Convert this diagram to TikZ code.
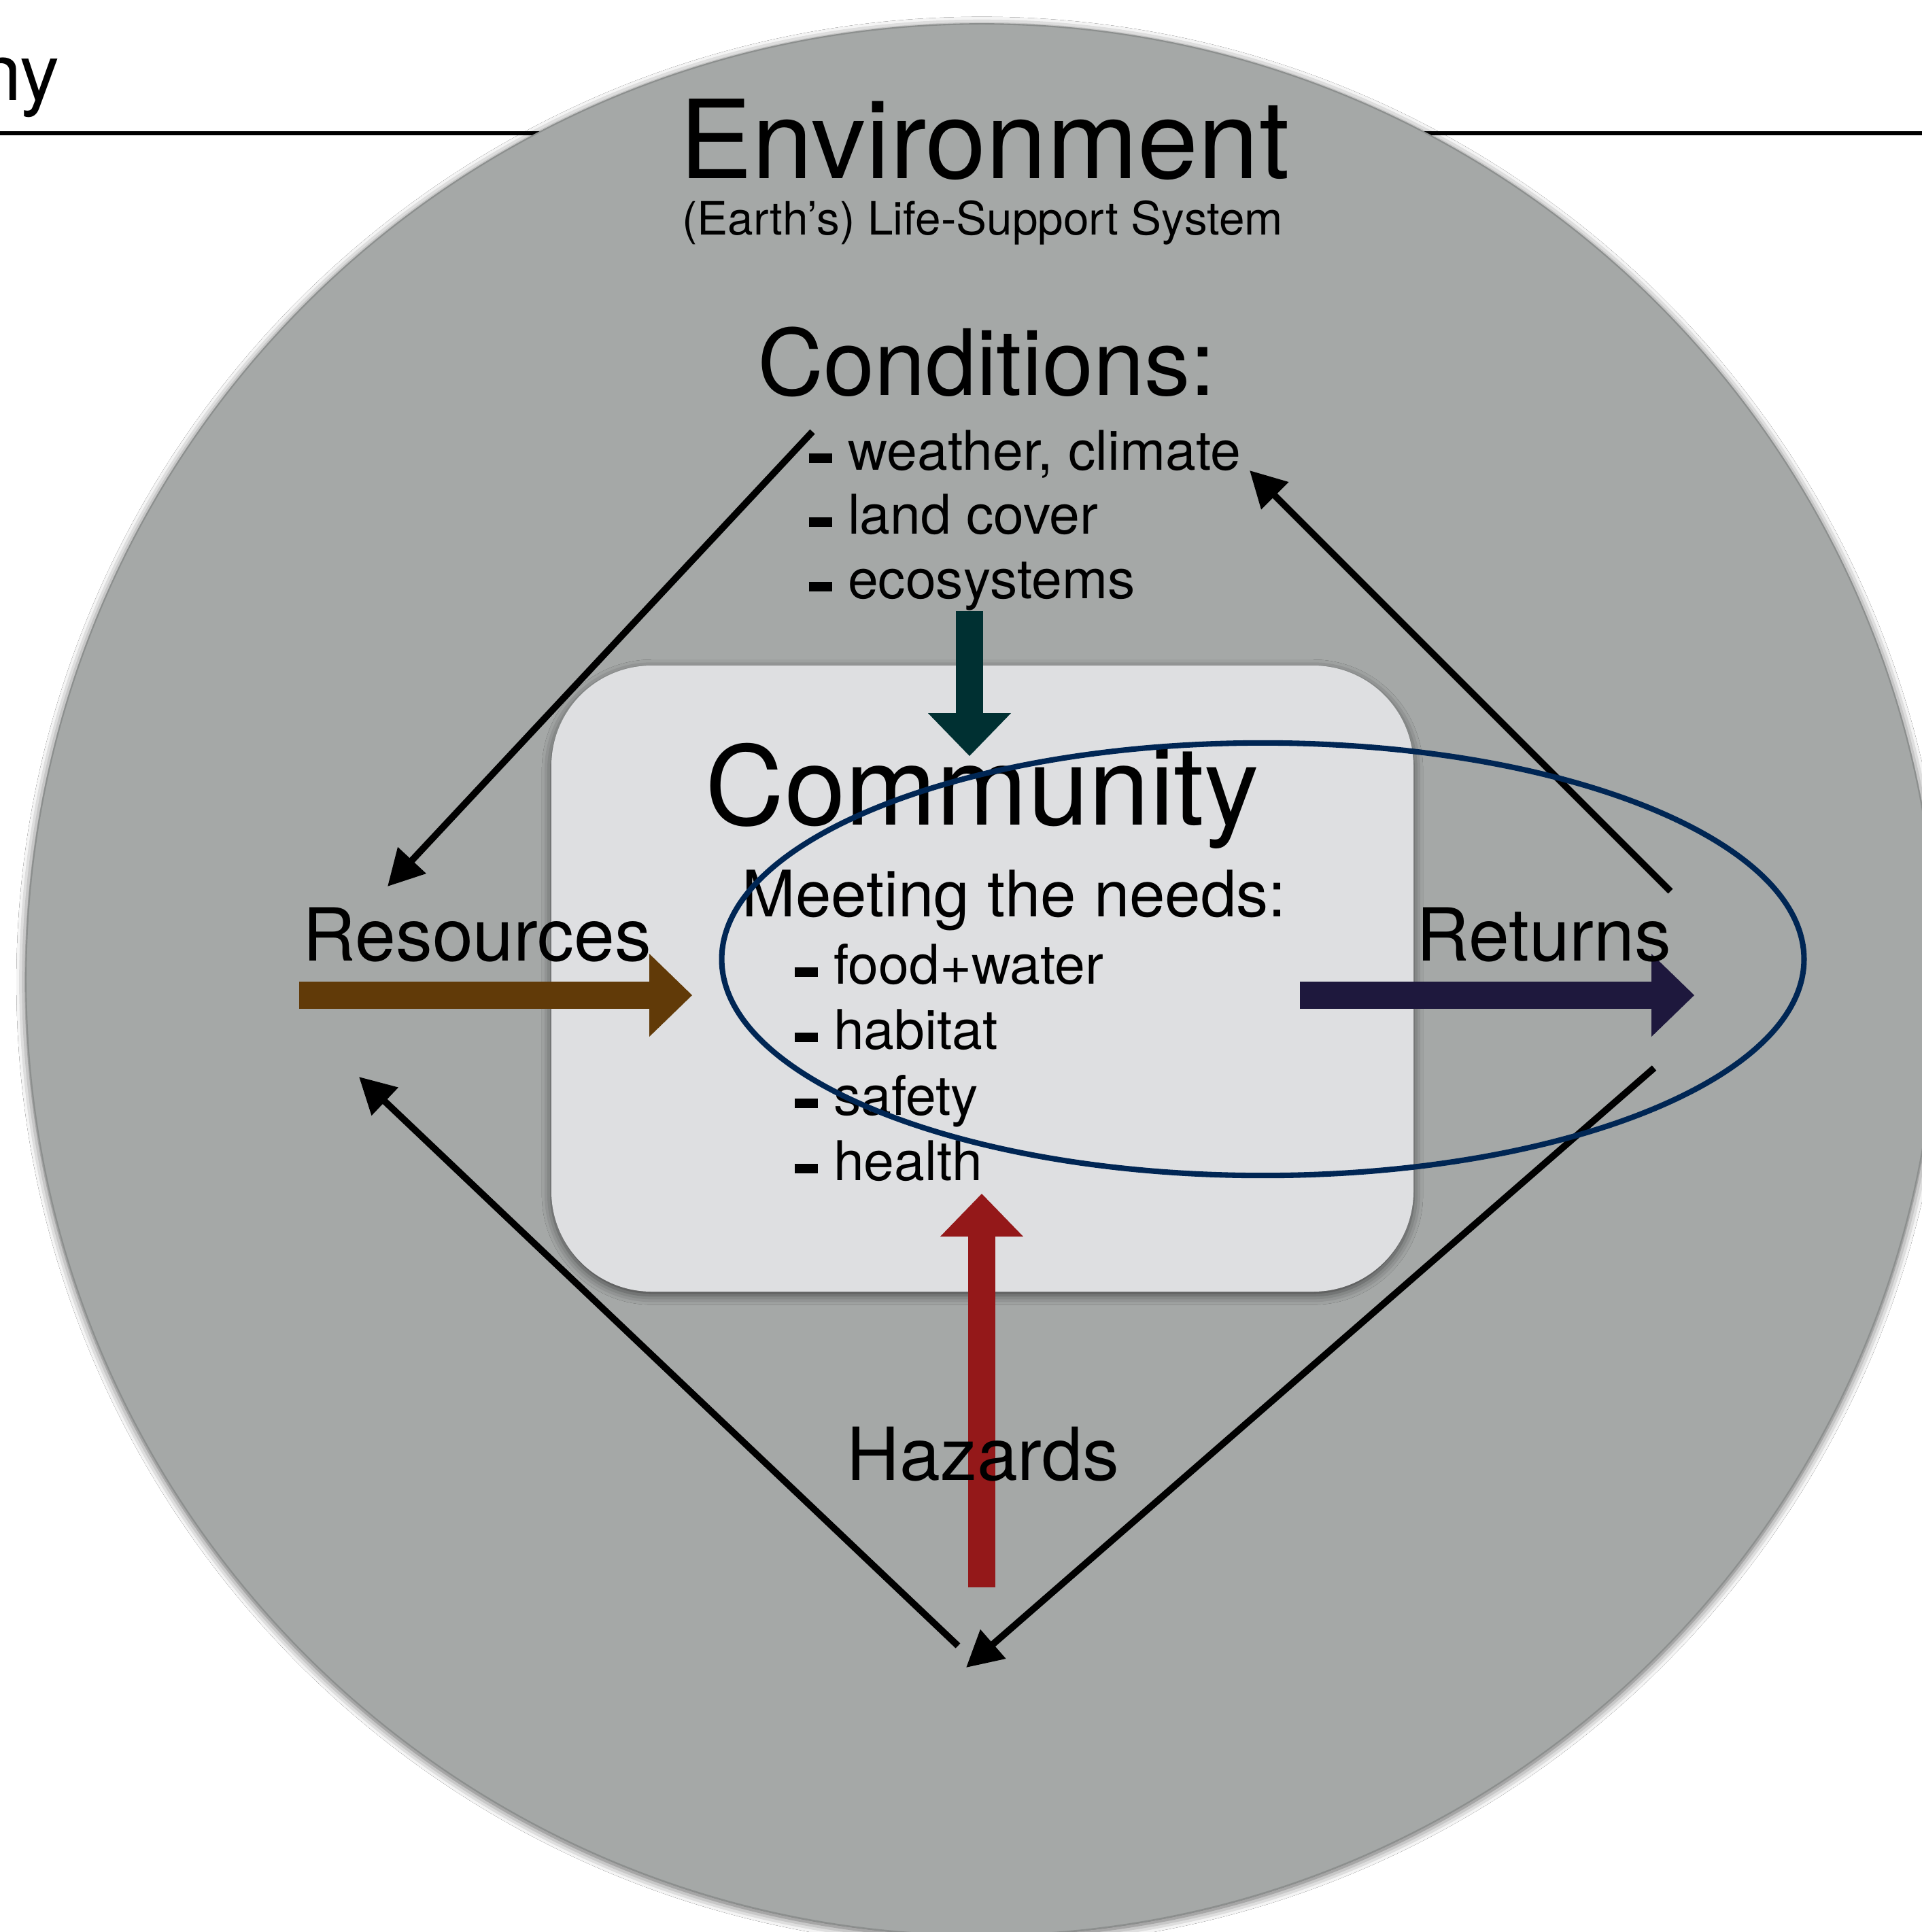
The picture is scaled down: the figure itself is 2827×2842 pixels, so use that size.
\documentclass[tikz,border=0pt]{standalone}
\usepackage{fontspec}
\setmainfont{TeX Gyre Heros}
\usetikzlibrary{arrows.meta,shadows.blur}

\definecolor{envgray}{RGB}{165,168,167}
\definecolor{envedge}{RGB}{140,143,142}
\definecolor{commgray}{RGB}{222,223,225}
\definecolor{resbrown}{RGB}{97,58,8}
\definecolor{condteal}{RGB}{0,48,50}
\definecolor{retnavy}{RGB}{30,24,61}
\definecolor{hazred}{RGB}{148,24,25}
\definecolor{loopblue}{RGB}{0,38,84}

\newcommand{\listdash}{\rule[2.85pt]{9.7pt}{4pt}\hspace{6.6pt}}

\begin{document}
\begin{tikzpicture}[x=0.01cm,y=-0.01cm,
        txt/.style={inner sep=0pt,anchor=base},
        list item/.style={inner sep=0pt,anchor=base west,font=\fontsize{22.9}{27}\selectfont},
        side label/.style={txt,font=\fontsize{30.6}{36}\selectfont},
        cycle arrow/.style={line width=2.8pt,-{Triangle[length=15pt,width=15.5pt,fill=black]}},
        fat arrow/.style={line width=11.2pt,-{Triangle[line width=0pt,length=17.9pt,width=34.7pt]}}]
        \useasboundingbox (0,0) rectangle (2827,2842);
        \fill[white] (0,0) rectangle (2827,2842);
        %header
        \draw[line width=1.6pt] (0,196) -- (2827,196);
        \node[txt,anchor=base east,font=\fontsize{33}{40}\selectfont] (ny) at (88,147) {ny};
        %environment and community
        \filldraw[fill=envgray,draw=envedge,line width=0.6pt,blur shadow={shadow xshift=0pt,shadow yshift=-1pt,shadow blur radius=4pt,shadow opacity=70}]
            (1444,1441) circle[radius=14.05cm];
        \fill[commgray,rounded corners=42pt,blur shadow={shadow xshift=0pt,shadow yshift=-1.5pt,shadow blur radius=4pt,shadow opacity=60}]
            (811,979) rectangle (2079,1900);
        %arrow ends
        \coordinate (cond in) at (1426,899);
        \coordinate (comm top) at (1426,1112);
        \coordinate (res in) at (440,1464);
        \coordinate (comm left) at (1018,1464);
        \coordinate (comm right) at (1912,1464);
        \coordinate (ret out) at (2492,1464);
        \coordinate (haz in) at (1444,2335);
        \coordinate (comm bottom) at (1444,1756);
        \coordinate (cond out) at (1195,635);
        \coordinate (res top) at (570,1304);
        \coordinate (ret top) at (2457,1311);
        \coordinate (cond right) at (1838,692);
        \coordinate (ret bottom) at (2433,1571);
        \coordinate (haz bottom) at (1421,2453);
        \coordinate (haz left) at (1409,2421);
        \coordinate (res bottom) at (528,1584);
        %fat arrows
        \draw[fat arrow,condteal] (cond in) -- (comm top);
        \draw[fat arrow,resbrown] (res in) -- (comm left);
        \draw[fat arrow,retnavy] (comm right) -- (ret out);
        \draw[fat arrow,hazred] (haz in) -- (comm bottom);
        %texts
        \node[txt,font=\fontsize{45.6}{54}\selectfont] (env) at (1448,262) {Environment};
        \node[txt,font=\fontsize{19.2}{23}\selectfont] (lss) at (1445,345) {(Earth’s) Life-Support System};
        \node[txt,font=\fontsize{38.3}{46}\selectfont] (cond) at (1451,581) {Conditions:};
        \node[list item] (weather) at (1189,691) {\listdash weather, climate};
        \node[list item] (land) at (1189,785) {\listdash land cover};
        \node[list item] (eco) at (1189,880) {\listdash ecosystems};
        \node[txt,font=\fontsize{45.8}{54}\selectfont] (comm) at (1445,1213) {Community};
        \node[txt,font=\fontsize{26.8}{32}\selectfont] (needs) at (1492,1348) {Meeting the needs:};
        \node[list item] (food) at (1168,1447) {\listdash food+water};
        \node[list item] (habitat) at (1168,1543) {\listdash habitat};
        \node[list item] (safety) at (1168,1640) {\listdash safety};
        \node[list item] (health) at (1168,1736) {\listdash health};
        \node[side label] (res) at (702,1413) {Resources};
        \node[side label] (ret) at (2271,1413) {Returns};
        \node[side label] (haz) at (1446,2177) {Hazards};
        %cycle
        \draw[cycle arrow] (cond out) -- (res top);
        \draw[cycle arrow] (ret top) -- (cond right);
        \draw[cycle arrow] (ret bottom) -- (haz bottom);
        \draw[cycle arrow] (haz left) -- (res bottom);
        \draw[loopblue,line width=2.3pt] (1857.5,1411) ellipse[x radius=7.955cm,y radius=3.18cm];
\end{tikzpicture}
\end{document}
